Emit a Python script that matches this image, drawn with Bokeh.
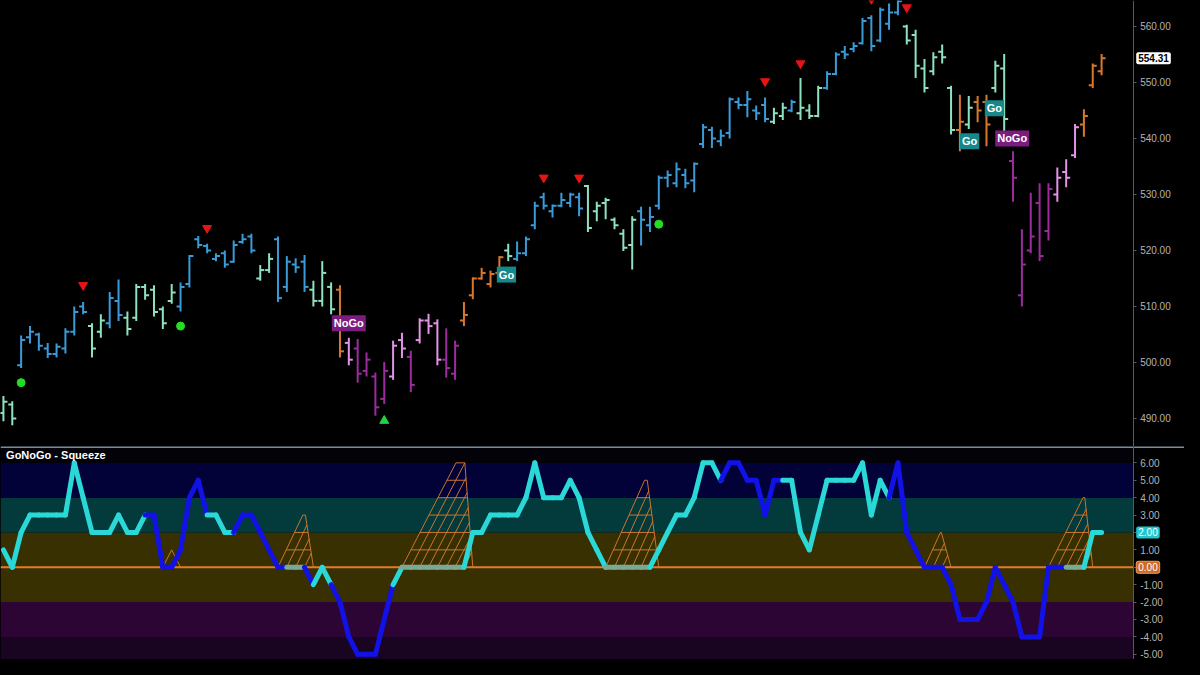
from bokeh.plotting import figure
from bokeh.models import (ColumnDataSource, Range1d, FixedTicker, PrintfTickFormatter,
                          Label, BoxAnnotation, GlobalInlineStyleSheet)
from bokeh.layouts import column
from bokeh.embed import file_html
from bokeh.resources import INLINE

# ---------------- data ----------------
highs = [494.0, 493.1, 504.8, 506.5, 505.3, 503.5, 503.4, 506.1, 510.0, 510.8,
         507.0, 508.6, 512.6, 514.8, 509.1, 514.0, 514.0, 513.8, 510.0, 514.0,
         514.3, 519.2, 522.6, 521.2, 519.5, 520.0, 521.8, 523.0, 523.0, 517.4,
         519.5, 522.5, 519.0, 518.6, 519.2, 514.6, 518.1, 514.3, 513.8, 504.4,
         504.2, 501.8, 498.2, 500.1, 503.9, 505.3, 502.1, 507.9, 508.7, 507.7,
         506.1, 503.9, 510.8, 515.2, 516.9, 516.4, 519.0, 521.2, 521.6, 522.5,
         528.7, 530.3, 528.2, 530.3, 530.3, 530.3, 531.7, 528.7, 529.4, 525.9,
         523.8, 526.1, 527.8, 527.8, 533.4, 534.3, 535.7, 534.6, 535.7, 542.6,
         542.1, 541.6, 547.3, 547.3, 548.5, 545.9, 547.3, 545.5, 546.4, 546.9,
         550.8, 546.1, 549.4, 552.0, 555.4, 556.5, 557.2, 561.5, 562.0, 563.4,
         564.1, 565.5, 560.3, 559.4, 554.2, 555.4, 556.8, 549.4, 547.8, 547.6,
         547.6, 547.8, 553.9, 555.1, 537.7, 523.8, 530.3, 532.0, 532.0, 534.8,
         536.3, 542.6, 545.2, 553.4, 555.1]
lows = [489.5, 488.8, 499.0, 503.4, 502.1, 500.8, 500.9, 501.6, 504.8, 508.6,
        500.9, 504.4, 506.1, 507.4, 504.8, 507.4, 511.2, 508.2, 506.0, 510.5,
        509.1, 513.4, 520.4, 519.5, 518.1, 516.9, 517.8, 521.2, 519.5, 514.6,
        516.0, 510.8, 512.6, 516.0, 512.6, 510.0, 510.0, 508.6, 500.9, 499.5,
        496.4, 497.5, 490.5, 492.6, 496.9, 500.8, 494.7, 503.4, 505.1, 499.5,
        497.3, 496.9, 506.5, 511.3, 514.8, 513.4, 515.5, 518.1, 518.1, 519.0,
        523.8, 527.3, 525.9, 527.7, 527.7, 526.1, 523.3, 525.2, 525.6, 523.8,
        519.9, 516.6, 520.9, 523.3, 527.3, 531.3, 531.3, 531.1, 530.4, 538.3,
        538.3, 538.6, 540.0, 545.2, 543.8, 543.3, 542.9, 542.6, 543.3, 544.7,
        543.3, 543.5, 543.8, 548.7, 551.3, 554.2, 555.4, 556.8, 555.6, 557.2,
        559.4, 562.0, 556.8, 550.8, 548.2, 551.3, 553.4, 540.7, 537.7, 541.7,
        542.9, 538.6, 548.2, 540.9, 528.7, 510.0, 519.5, 518.1, 521.8, 528.7,
        531.3, 536.5, 540.3, 549.0, 551.3]
opens = [491.0, 492.5, 499.5, 504.5, 505.0, 502.5, 501.5, 502.5, 505.5, 510.0,
         506.5, 505.5, 507.0, 511.0, 508.0, 508.0, 513.5, 513.0, 509.5, 511.0,
         510.0, 514.0, 522.0, 520.8, 518.5, 519.5, 518.0, 521.5, 522.5, 515.0,
         516.5, 522.0, 513.5, 517.5, 518.0, 513.0, 511.0, 513.5, 513.0, 503.5,
         502.5, 498.5, 497.5, 493.5, 497.5, 504.0, 501.0, 504.0, 507.5, 507.0,
         500.5, 498.0, 507.5, 512.0, 515.0, 514.0, 516.0, 520.0, 518.5, 519.5,
         524.5, 529.5, 527.0, 528.0, 528.5, 529.5, 531.5, 527.0, 528.5, 525.5,
         523.0, 521.0, 527.0, 524.5, 528.0, 533.0, 532.0, 533.5, 532.5, 539.0,
         541.5, 539.5, 541.0, 546.5, 546.0, 545.0, 546.0, 543.0, 544.0, 545.0,
         544.5, 545.0, 544.0, 549.0, 551.5, 555.5, 556.0, 557.0, 561.5, 557.5,
         560.5, 562.5, 560.0, 558.5, 552.5, 552.0, 555.5, 549.0, 541.5, 542.5,
         546.5, 546.5, 549.0, 552.5, 536.0, 512.0, 520.0, 528.5, 523.5, 530.0,
         534.0, 537.0, 542.5, 549.5, 552.0]
closes = [493.0, 490.0, 504.0, 505.5, 503.0, 501.5, 502.8, 505.5, 509.0, 509.0,
          502.5, 507.5, 511.5, 508.5, 506.0, 513.5, 512.0, 509.0, 507.0, 512.5,
          513.5, 519.0, 521.0, 520.0, 519.0, 517.5, 521.0, 522.0, 520.0, 516.5,
          518.5, 511.5, 518.0, 517.0, 513.5, 511.0, 516.0, 509.5, 502.0, 500.5,
          498.0, 500.5, 492.0, 498.5, 503.0, 502.5, 496.0, 507.5, 506.5, 500.5,
          499.0, 503.0, 508.5, 515.0, 516.0, 515.8, 518.8, 519.0, 519.5, 522.0,
          528.0, 528.0, 528.0, 529.0, 530.0, 527.5, 524.0, 528.0, 529.0, 524.5,
          520.5, 525.5, 525.5, 526.0, 533.0, 533.5, 534.5, 532.0, 535.5, 542.0,
          540.0, 540.5, 547.0, 546.0, 547.0, 544.5, 543.5, 544.5, 545.5, 546.5,
          545.5, 544.0, 549.0, 551.5, 555.0, 555.0, 556.5, 561.0, 556.5, 563.0,
          562.5, 564.5, 557.5, 553.0, 549.0, 554.5, 554.5, 541.5, 543.0, 545.5,
          545.0, 542.5, 553.0, 543.5, 533.0, 517.5, 522.5, 519.0, 531.0, 533.0,
          533.0, 542.0, 544.0, 553.0, 554.31]
# trend state per bar: B strong go, G weak go, O neutral, P weak nogo, M strong nogo
bar_state = ("GG" "BBBBBBBB" "GG" "BB" "GGGGGG" "BBBBBBBBB" "GG" "BBBB" "GGG" "O" "P"
             "MMMM" "PP" "M" "PPP" "MM" "OOOOO" "G" "BBBBBBBB" "GGGGGG"
             "BBBBBBBBBBBBBBB" "GG" "B" "GGG" "BBBBBBBBB" "GGGGGG" "O" "G" "OO" "GG"
             "MMMMM" "PPP" "OOO")

osc = [1, 0, 2, 3, 3, 3, 3, 3, 6, 4, 2, 2, 2, 3, 2, 2, 3, 3, 0, 0,
       1, 4, 5, 3, 3, 2, 2, 3, 3, 2, 1, 0, 0, 0, 0, -1, 0, -1, -2, -4,
       -5, -5, -5, -3, -1, 0, 0, 0, 0, 0, 0, 0, 0, 2, 2, 3, 3, 3, 3, 4,
       6, 4, 4, 4, 5, 4, 2, 1, 0, 0, 0, 0, 0, 0, 1, 2, 3, 3, 4, 6,
       6, 5, 6, 6, 5, 5, 3, 5, 5, 5, 2, 1, 3, 5, 5, 5, 5, 6, 3, 5,
       4, 6, 2, 1, 0, 0, 0, -1, -3, -3, -3, -2, 0, -1, -2, -4, -4, -4, 0, 0,
       0, 0, 0, 2, 2]
# oscillator segment state: c = go (cyan), b = nogo side (blue), g = squeeze at zero
osc_state = ("cccccccccccccccc" "bbbbbbb" "ccc" "bbbbbb" "gg" "b" "cc" "bbbbbbb" "c"
             "ggggggg" "cccccccccccccccc" "ggggg" "cccccccc" "bbbbbbb" "cccccccccccc"
             "bbbbbbbbbbbbbbbbbbbb" "gg" "cc")

# squeeze grids: bar left, bar right, top-left bar, top-right bar, max level
sq_left = [18, 31, 45, 68, 104, 118]
sq_right = [20, 35, 53, 74, 107, 123]
sq_top_left = [19.0, 33.8, 51.1, 72.4, 105.8, 121.9]
sq_top_right = [19.0, 34.1, 52.1, 72.7, 105.9, 122.1]
sq_level = [1, 3, 6, 5, 2, 4]

red_tri_bar = [9, 23, 61, 65, 86, 90, 98, 102]
red_tri_price = [513.8, 524.0, 533.0, 533.0, 550.2, 553.4, 564.9, 563.4]
green_dot_bar = [2, 20, 74]
green_dot_price = [496.4, 506.5, 524.7]
green_tri_bar = [43]
green_tri_price = [489.6]

sig_text = ["NoGo", "Go", "Go", "Go", "NoGo"]
sig_bar = [39.0, 56.8, 109.1, 111.9, 113.9]
sig_price = [507.0, 515.7, 539.5, 545.4, 540.0]

price_ticks = [490, 500, 510, 520, 530, 540, 550, 560]
osc_ticks = [-5, -4, -3, -2, -1, 0, 1, 2, 3, 4, 5, 6]
last_price = 554.31

# bands of the oscillator panel: (bottom, top, colour)
band_bottom = [-6, -4, -2, 2, 4, 6]
band_top = [-4, -2, 2, 4, 6, 7.5]
band_color = ["#190421", "#2d0535", "#383000", "#033a3b", "#020239", "#020208"]

# ---------------- style / layout ----------------
BAR_COL = {"B": "#3a9bd8", "G": "#8fe2bf", "O": "#d9782d", "P": "#e294e6", "M": "#9c2c9e"}
OSC_COL = {"c": "#2ad8d8", "b": "#1212e6", "g": "#79a893"}
FONT = "Liberation Sans"
W = 1184
AXIS_X = 127.56          # bar-index position of the price scale line
TICK = 0.45              # half-width of the open/close ticks, in bars
n = len(highs)
xs = list(range(n))

x_range = Range1d(-0.33, 133.36)


def make_fig(h, yr):
    f = figure(width=W, height=h, x_range=x_range, y_range=yr,
               y_axis_location="right", output_backend="svg", toolbar_location=None,
               background_fill_color="black", border_fill_color="black",
               min_border_left=0, min_border_right=0, min_border_top=0, min_border_bottom=0,
               outline_line_color=None)
    f.xaxis.visible = False
    f.grid.visible = False
    ax = f.yaxis[0]
    ax.fixed_location = AXIS_X
    ax.axis_line_color = "#5a5a5a"
    ax.major_tick_line_color = "#5a5a5a"
    ax.major_tick_out = 3
    ax.major_tick_in = 0
    ax.minor_tick_line_color = None
    ax.major_label_text_color = "#b4b4b4"
    ax.major_label_text_font = FONT
    ax.major_label_text_font_size = "10px"
    ax.major_label_standoff = 4
    ax.formatter = PrintfTickFormatter(format="%.2f")
    return f


p1 = make_fig(446, Range1d(485.0, 564.64))
p1.yaxis[0].ticker = FixedTicker(ticks=price_ticks)

src = ColumnDataSource(dict(
    x=xs, xo=[i - TICK for i in xs], xc=[i + TICK for i in xs],
    high=highs, low=lows, open=opens, close=closes,
    color=[BAR_COL[s] for s in bar_state]))
p1.segment(x0="x", y0="low", x1="x", y1="high", line_color="color", line_width=2, source=src)
p1.segment(x0="xo", y0="open", x1="x", y1="open", line_color="color", line_width=2, source=src)
p1.segment(x0="x", y0="close", x1="xc", y1="close", line_color="color", line_width=2, source=src)

p1.scatter(red_tri_bar, red_tri_price, marker="inverted_triangle", size=9,
           fill_color="#e61414", line_color="#e61414")
p1.scatter(green_dot_bar, green_dot_price, marker="circle", size=8,
           fill_color="#22dd22", line_color="#22dd22")
p1.scatter(green_tri_bar, green_tri_price, marker="triangle", size=9,
           fill_color="#22d444", line_color="#22d444")

for t, bx, py in zip(sig_text, sig_bar, sig_price):
    bg = "#7c1c80" if t == "NoGo" else "#16878a"
    p1.add_layout(Label(x=bx, y=py, text=t, text_align="center", text_baseline="middle",
                        text_color="white", text_font=FONT, text_font_size="11px",
                        text_font_style="bold", background_fill_color=bg,
                        background_fill_alpha=1.0, padding=2))

p1.add_layout(Label(x=AXIS_X + 0.35, y=last_price, text="%.2f" % last_price,
                    text_align="left", text_baseline="middle", text_color="black",
                    text_font=FONT, text_font_size="10px", text_font_style="bold",
                    background_fill_color="white", background_fill_alpha=1.0,
                    padding=2, border_radius=2))

# ---------------- oscillator panel ----------------
p2 = make_fig(213, Range1d(-5.3, 6.94))
p2.yaxis[0].ticker = FixedTicker(ticks=osc_ticks)

for b, t, c in zip(band_bottom, band_top, band_color):
    p2.add_layout(BoxAnnotation(bottom=b, top=t, right=AXIS_X, fill_color=c, fill_alpha=1.0,
                                line_color=None, level="underlay"))

# zero line and top separator of the panel
p2.segment(x0=[x_range.start], y0=[0], x1=[AXIS_X], y1=[0], line_color="#e07d2a", line_width=2)
p2.segment(x0=[x_range.start], y0=[6.94], x1=[x_range.end], y1=[6.94],
           line_color="#7d8b98", line_width=3)

# squeeze grids: stepped levels with slanted lines parallel to the left edge
gx, gy = [], []
for L, R, TL, TR, N in zip(sq_left, sq_right, sq_top_left, sq_top_right, sq_level):
    s = (TL - L) / N
    r = (TR - R) / N
    for k in range(1, N + 1):
        gx.append([L + s * k, R + r * k])
        gy.append([k, k])
    gx.append([R, TR])                 # right edge
    gy.append([0, N])
    b = L
    while b < R - 0.2:
        k_end = min(N, (R - b) / (s - r)) if s - r > 0 else N
        gx.append([b, b + s * k_end])
        gy.append([0, k_end])
        b += 1
p2.multi_line(gx, gy, line_color="#d5782e", line_width=1, line_alpha=0.95)

seg = ColumnDataSource(dict(
    x0=xs[:-1], x1=xs[1:], y0=osc[:-1], y1=osc[1:],
    color=[OSC_COL[s] for s in osc_state]))
p2.segment(x0="x0", y0="y0", x1="x1", y1="y1", line_color="color", line_width=5,
           line_cap="round", source=seg)

p2.add_layout(Label(x=0.3, y=6.45, text="GoNoGo - Squeeze", text_color="white",
                    text_font=FONT, text_font_size="11px", text_font_style="bold",
                    text_baseline="middle", text_align="left"))

p2.add_layout(Label(x=AXIS_X + 0.35, y=osc[-1], text="%.2f" % osc[-1], text_align="left",
                    text_baseline="middle", text_color="white", text_font=FONT,
                    text_font_size="10px", background_fill_color="#22c6cf",
                    background_fill_alpha=1.0, padding=2, border_radius=2))
p2.add_layout(Label(x=AXIS_X + 0.35, y=0, text="0.00", text_align="left",
                    text_baseline="middle", text_color="white", text_font=FONT,
                    text_font_size="10px", background_fill_color="#cf6a22",
                    background_fill_alpha=1.0, border_line_color="#f0a060",
                    padding=2, border_radius=2))

layout = column(p1, p2, spacing=0,
                stylesheets=[GlobalInlineStyleSheet(css="body { background: #000000; }")])

open("out.html", "w").write(file_html(layout, INLINE))
